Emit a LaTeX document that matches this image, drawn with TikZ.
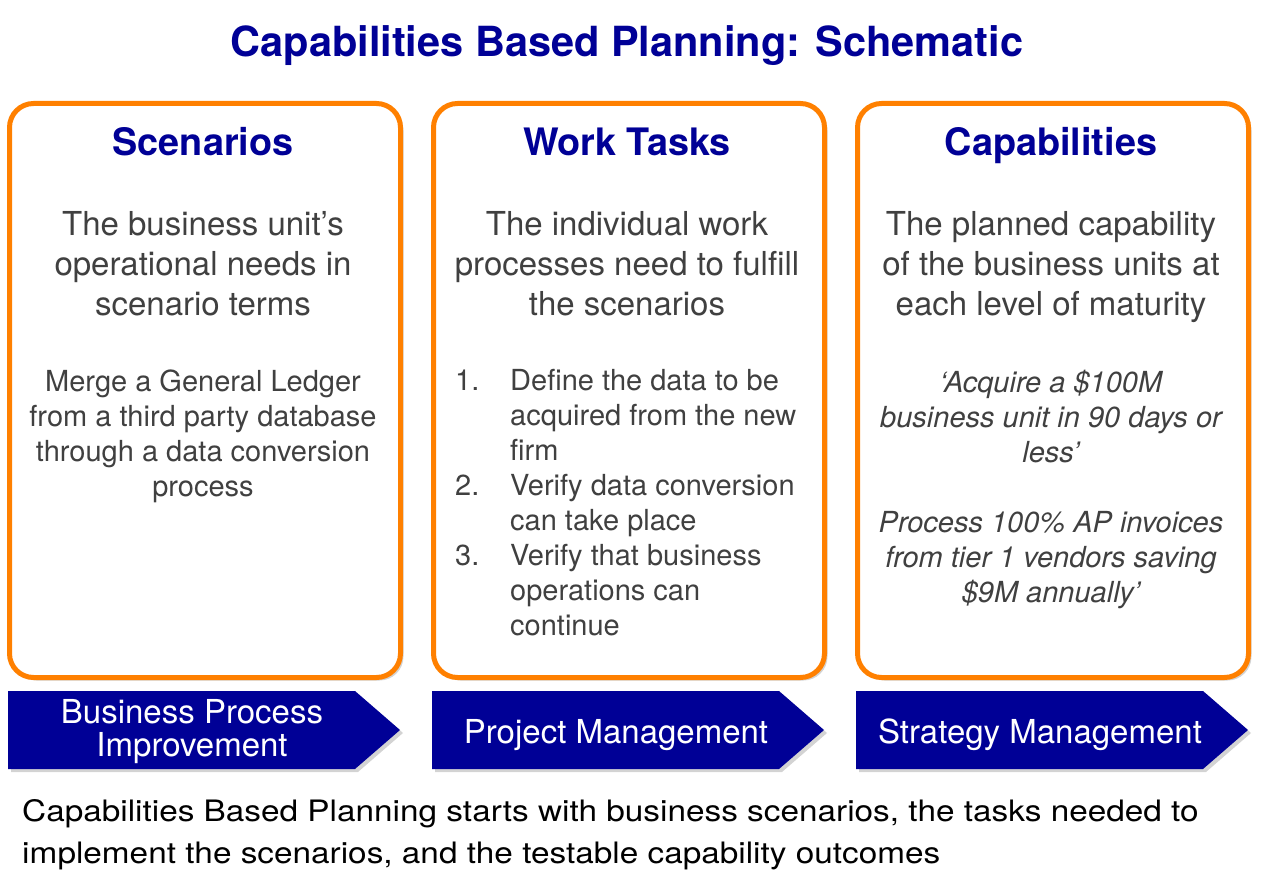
\documentclass[tikz,border=0pt]{standalone}
\usepackage{fontspec}
\setmainfont{TeX Gyre Heros}
\usetikzlibrary{shadows}
\definecolor{navy}{RGB}{0,0,150}
\definecolor{boxorange}{RGB}{255,128,0}
\definecolor{textgray}{RGB}{64,64,64}

\begin{document}
\begin{tikzpicture}[x=1pt,y=-1pt,
  panel/.style={draw=boxorange, line width=5pt, rounded corners=24pt, fill=white,
    drop shadow={opacity=0.35, shadow xshift=3pt, shadow yshift=-3pt}},
  banner/.style={fill=navy, drop shadow={opacity=0.35, shadow xshift=3pt, shadow yshift=-3pt}},
  titletext/.style={anchor=north, inner sep=0pt, text=navy, font=\fontsize{41.5}{48}\selectfont\bfseries},
  heading/.style={anchor=north, inner sep=0pt, text=navy, font=\fontsize{37.8}{44}\selectfont\bfseries},
  body/.style={anchor=north, inner sep=0pt, text=textgray, align=center, font=\fontsize{33}{40}\selectfont},
  detail/.style={anchor=north, inner sep=0pt, text=textgray, align=center, font=\fontsize{29}{35}\selectfont},
  bannertext/.style={inner sep=0pt, text=white, align=center, font=\fontsize{33}{33}\selectfont}]
  \useasboundingbox (0,0) rectangle (1265,890);

  \node[titletext] at (627,25) (title) {Capabilities Based Planning: Schematic};

  % the three panels
  \foreach \x in {9.5,433.5,857.5}
    \draw[panel] (\x,103.5) rectangle (\x+391,677.5);

  \node[heading] at (203,127.5) (scen) {Scenarios};
  \node[heading] at (627,127.5) (work) {Work Tasks};
  \node[heading] at (1051,127.5) (capa) {Capabilities};

  \node[body] at (203,211.5) (scenbody) {The business unit's\\operational needs in\\scenario terms};
  \node[body] at (627,211.5) (workbody) {The individual work\\processes need to fulfill\\the scenarios};
  \node[body] at (1051,211.5) (capabody) {The planned capability\\of the business units at\\each level of maturity};

  \node[detail] at (203,369.5) (scendetail) {Merge a General Ledger\\from a third party database\\through a data conversion\\process};
  \node[detail, anchor=north west, align=left] at (455,369.5) (worklist)
    {\makebox[55pt][l]{1.}Define the data to be\\
     \hspace*{55pt}acquired from the new\\
     \hspace*{55pt}firm\\
     \makebox[55pt][l]{2.}Verify data conversion\\
     \hspace*{55pt}can take place\\
     \makebox[55pt][l]{3.}Verify that business\\
     \hspace*{55pt}operations can\\
     \hspace*{55pt}continue};
  \node[detail, font=\fontsize{29}{35}\selectfont\itshape] at (1051,369.5) (capadetail)
    {`Acquire a \$100M\\business unit in 90 days or\\less'\\[35pt]Process 100\% AP invoices\\from tier 1 vendors saving\\\$9M annually'};

  % banners
  \foreach \x in {8,432,856}
    \fill[banner] (\x,691) -- (\x+347,691) -- (\x+392,730) -- (\x+347,769) -- (\x,769) -- cycle;

  \node[bannertext, anchor=north] at (192,699) (bpi) {Business Process\\Improvement};
  \node[bannertext, anchor=base] at (616,743) (pm) {Project Management};
  \node[bannertext, anchor=base] at (1040,743) (sm) {Strategy Management};

  \node[anchor=north west, inner sep=0pt, align=left,
    font=\fontsize{29.5}{42}\selectfont\addfontfeatures{FakeStretch=1.13}] at (22,799.5) (caption)
    {Capabilities Based Planning starts with business scenarios, the tasks needed to\\implement the scenarios, and the testable capability outcomes};
\end{tikzpicture}
\end{document}
